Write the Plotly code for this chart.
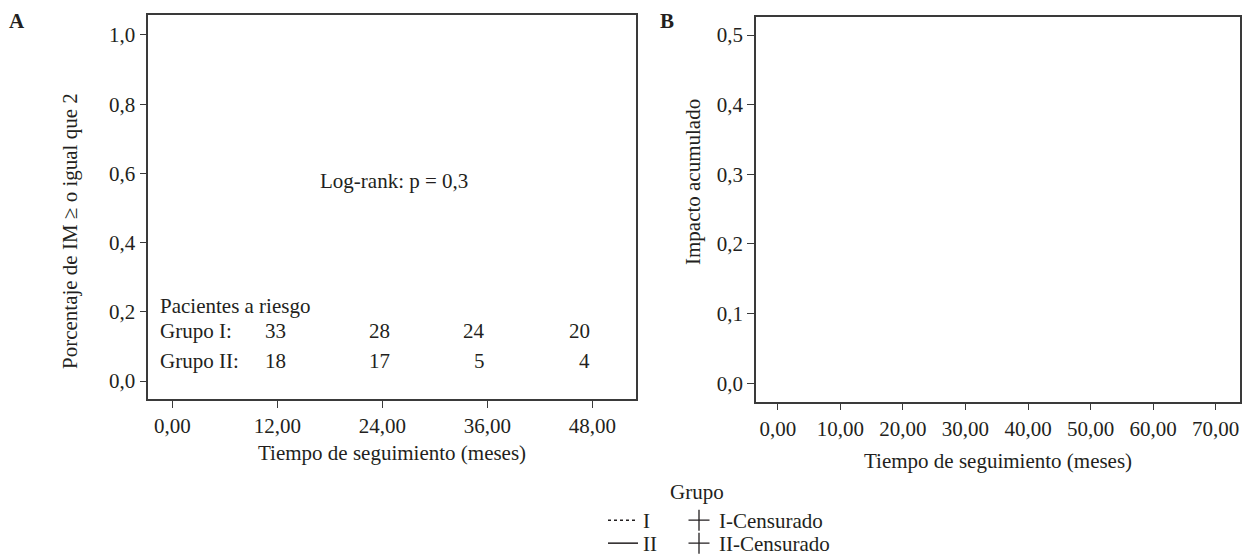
import plotly.graph_objects as go

# ---------------- data ----------------
x_ticks_A = [0, 12, 24, 36, 48]
x_ticklabels_A = ["0,00", "12,00", "24,00", "36,00", "48,00"]
y_ticks_A = [0.0, 0.2, 0.4, 0.6, 0.8, 1.0]
y_ticklabels_A = ["0,0", "0,2", "0,4", "0,6", "0,8", "1,0"]

x_ticks_B = [0, 10, 20, 30, 40, 50, 60, 70]
x_ticklabels_B = ["0,00", "10,00", "20,00", "30,00", "40,00", "50,00", "60,00", "70,00"]
y_ticks_B = [0.0, 0.1, 0.2, 0.3, 0.4, 0.5]
y_ticklabels_B = ["0,0", "0,1", "0,2", "0,3", "0,4", "0,5"]

risk_times = [12, 24, 36, 48]
risk_group_I = [33, 28, 24, 20]
risk_group_II = [18, 17, 5, 4]
risk_row_labels = ["Grupo I:", "Grupo II:"]

groups = ["I", "II"]
censored_names = ["I-Censurado", "II-Censurado"]
group_dash = ["dot", "solid"]
log_rank_p = "0,3"

# ---------------- style ----------------
W, H = 1242, 558
FONT = "Liberation Serif, Times New Roman, serif"
INK = "#231f20"
LINE = "#3a3a3a"
FS = 21


def px(x):
    return x / W


def py(y):
    return 1 - y / H


fig = go.Figure()

# survival curves (no visible steps in the reference) + censor marks; each entry gets its own legend box
legend_rows = [500, 523]          # top of each legend row (px)
legend_cols = [603, 679]          # left of line-key column and censor-key column (px)
legend_layout = {}
k = 1
for row, (g, cn, dash) in enumerate(zip(groups, censored_names, group_dash)):
    for col, tr in enumerate([
        go.Scatter(x=[None], y=[None], mode="lines", name=g,
                   line=dict(color=INK, width=1.5, dash=dash, shape="hv")),
        go.Scatter(x=[None], y=[None], mode="markers", name=cn,
                   marker=dict(symbol="cross-thin", size=15, line=dict(color=INK, width=1.3), color=INK)),
    ]):
        lid = "legend" if k == 1 else f"legend{k}"
        tr.update(legend=lid, xaxis="x", yaxis="y")
        fig.add_trace(tr)
        legend_layout[lid] = dict(x=px(legend_cols[col]), y=py(legend_rows[row]), xanchor="left", yanchor="top",
                                  bgcolor="rgba(0,0,0,0)", font=dict(family=FONT, size=FS, color=INK),
                                  itemwidth=30)
        k += 1

# panel B (cumulative hazard) – no visible curve in the reference
fig.add_trace(go.Scatter(x=[None], y=[None], mode="lines", showlegend=False,
                         line=dict(color=INK, width=1.5, shape="hv"), xaxis="x2", yaxis="y2"))

axis_common = dict(showline=True, linecolor=LINE, linewidth=1.5, mirror=True, ticks="outside", ticklen=7,
                   tickcolor=LINE, tickwidth=1.2, showgrid=False, zeroline=False,
                   tickfont=dict(family=FONT, size=FS, color=INK))

A_l, A_r, A_t, A_b = 148.3, 636, 15, 399.3
B_l, B_r, B_t, B_b = 756, 1239.5, 16.7, 401.7

fig.update_layout(
    width=W, height=H,
    margin=dict(l=0, r=0, t=0, b=0, autoexpand=False),
    paper_bgcolor="white", plot_bgcolor="white",
    font=dict(family=FONT, size=FS, color=INK),
    xaxis=dict(domain=[px(A_l), px(A_r)], range=[-2.74, 53.0], tickvals=x_ticks_A, ticktext=x_ticklabels_A,
               anchor="y", **axis_common),
    yaxis=dict(domain=[py(A_b), py(A_t)], range=[-0.0528, 1.0577], tickvals=y_ticks_A, ticktext=y_ticklabels_A,
               anchor="x", **axis_common),
    xaxis2=dict(domain=[px(B_l), px(B_r)], range=[-3.48, 73.8], tickvals=x_ticks_B, ticktext=x_ticklabels_B,
                anchor="y2", **axis_common),
    yaxis2=dict(domain=[py(B_b), py(B_t)], range=[-0.0264, 0.5263], tickvals=y_ticks_B, ticktext=y_ticklabels_B,
                anchor="x2", **axis_common),
    showlegend=True,
    **legend_layout,
)


def txt(text, x, y, xref="paper", yref="paper", xanchor="center", angle=0):
    return dict(text=text, x=x, y=y, xref=xref, yref=yref, xanchor=xanchor, yanchor="middle",
                textangle=angle, showarrow=False, font=dict(size=FS, family=FONT, color=INK))


ann = []
ann.append(txt("<b>A</b>", px(17), py(21)))
ann.append(txt("<b>B</b>", px(667), py(21)))
ann.append(txt("Porcentaje de IM ≥ o igual que 2", px(70), py(231), angle=-90))
ann.append(txt("Impacto acumulado", px(693), py(182), angle=-90))
ann.append(txt("Tiempo de seguimiento (meses)", px((A_l + A_r) / 2), py(453)))
ann.append(txt("Tiempo de seguimiento (meses)", px((B_l + B_r) / 2), py(461)))
ann.append(txt(f"Log-rank: p = {log_rank_p}", 25.3, 0.577, "x", "y"))
ann.append(txt("Pacientes a riesgo", -1.6, 0.218, "x", "y", xanchor="left"))
row_y = [0.146, 0.059]
right_edges = [13.2, 25.1, 36.0, 48.0]
for lab, vals, yy in zip(risk_row_labels, [risk_group_I, risk_group_II], row_y):
    ann.append(txt(lab, -1.6, yy, "x", "y", xanchor="left"))
    for v, xr in zip(vals, right_edges):
        ann.append(txt(str(v), xr, yy, "x", "y", xanchor="right"))
ann.append(txt("Grupo", px(697), py(492)))

fig.update_layout(annotations=ann)

fig.write_html("out.html", config={"displayModeBar": False},
               post_script="document.body.style.margin='0px';")
